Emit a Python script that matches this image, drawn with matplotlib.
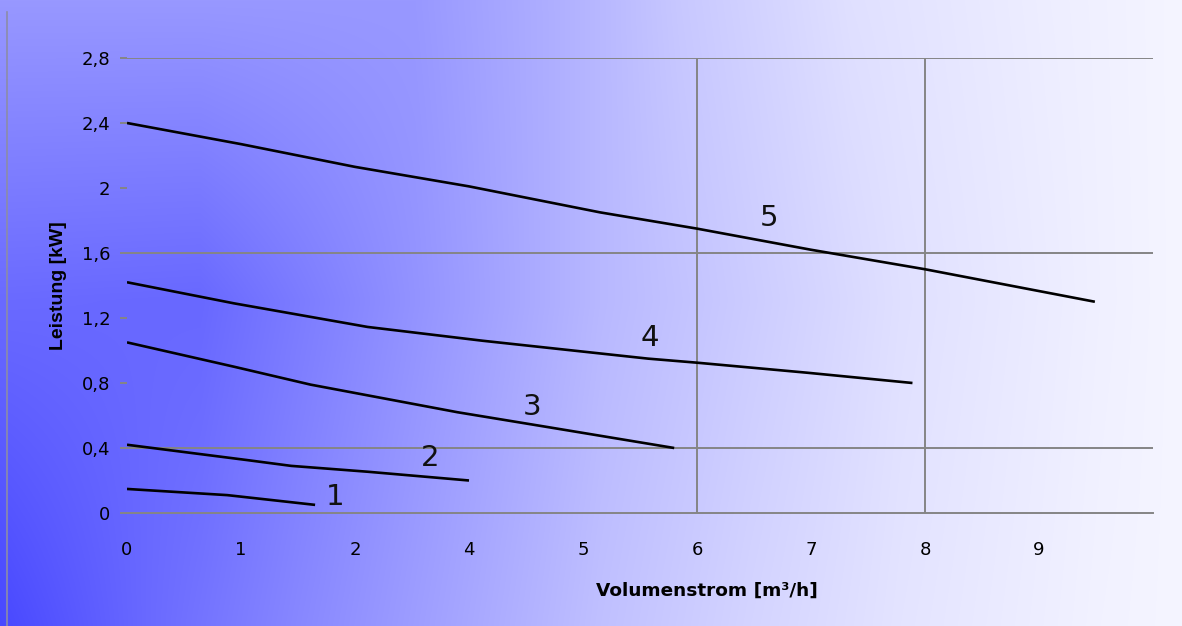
import numpy as np
import matplotlib
matplotlib.use("Agg")
import matplotlib.pyplot as plt
from matplotlib.lines import Line2D

# Kennlinien (x = Position auf der Achse, y = Leistung in kW)
x1 = [0.0, 0.88, 1.65]
y1 = [0.148, 0.11, 0.05]

x2 = [0.0, 1.05, 1.44, 2.11, 3.0]
y2 = [0.42, 0.326, 0.29, 0.254, 0.20]

x3 = [0.0, 0.94, 1.61, 2.9, 3.68, 4.8]
y3 = [1.05, 0.90, 0.79, 0.62, 0.53, 0.40]

x4 = [0.0, 0.94, 2.11, 3.12, 4.57, 5.0, 5.97, 6.89]
y4 = [1.42, 1.29, 1.145, 1.06, 0.95, 0.925, 0.863, 0.80]

x5 = [0.0, 1.0, 2.0, 3.0, 4.15, 5.0, 6.0, 7.0, 8.49]
y5 = [2.40, 2.27, 2.13, 2.01, 1.85, 1.75, 1.62, 1.50, 1.30]

curves = [(x1, y1), (x2, y2), (x3, y3), (x4, y4), (x5, y5)]
curve_names = ['1', '2', '3', '4', '5']
label_pos = [(1.83, 0.098), (2.66, 0.338), (3.55, 0.652), (4.59, 1.077), (5.63, 1.815)]

x_tick_labels = ['0', '1', '2', '4', '5', '6', '7', '8', '9']
y_ticks = [0, 0.4, 0.8, 1.2, 1.6, 2.0, 2.4, 2.8]
y_tick_labels = ['0', '0,4', '0,8', '1,2', '1,6', '2', '2,4', '2,8']
y_grid = [0.4, 1.6, 2.8]
x_grid = [5, 7]

W, H = 1182, 626
fig = plt.figure(figsize=(W / 100, H / 100), dpi=100)

# Hintergrund-Verlauf: Helligkeit in drei Zeilen, dazwischen linear
rows_y = [0, 300, 626]
rows = [
    ([0, 415, 560, 680, 850, 1050, 1182], [152, 152, 176, 200, 224, 238, 245]),
    ([0, 200, 450, 600, 750, 900, 1100, 1182], [106, 104, 154, 184, 204, 224, 240, 245]),
    ([0, 150, 300, 450, 600, 750, 900, 1100, 1182], [72, 106, 136, 164, 192, 212, 228, 242, 245]),
]
px = np.arange(W)
prof = np.array([np.interp(px, rx, rv) for rx, rv in rows])
v = np.empty((H, W))
for j in range(W):
    v[:, j] = np.interp(np.arange(H), rows_y, prof[:, j])
v = v / 255
img = np.dstack([v, v, np.ones_like(v)])
bg = fig.add_axes([0, 0, 1, 1], zorder=-1)
bg.imshow(img, aspect='auto', extent=[0, 1, 0, 1], origin='upper')
bg.axis('off')

fig.add_artist(Line2D([6.5 / W, 6.5 / W], [0, 1 - 12 / H], transform=fig.transFigure,
                      color='#8c8ca8', lw=1.2))

ax = fig.add_axes([127 / W, (H - 513) / H, 1026 / W, 455 / H])
ax.set_facecolor('none')
ax.set_xlim(0, 9)
ax.set_ylim(0, 2.8)

grid_c = '#858585'
for s in ax.spines.values():
    s.set_visible(False)
ax.axhline(0, color=grid_c, lw=1.4, clip_on=False)
for g in y_grid:
    ax.axhline(g, color=grid_c, lw=1.4)
for g in x_grid:
    ax.axvline(g, color=grid_c, lw=1.4)

for (xs, ys) in curves:
    ax.plot(xs, ys, color='black', lw=1.9, solid_capstyle='butt')
for name, (lx, ly) in zip(curve_names, label_pos):
    ax.text(lx, ly, name, fontsize=21, ha='center', va='center',
            family='DejaVu Sans', color='#111111')

ax.set_xticks(range(9))
ax.set_xticklabels(x_tick_labels, family='DejaVu Sans', fontsize=13)
ax.set_xticks([1, 3, 5, 7, 8], minor=True)
ax.tick_params(axis='x', which='major', length=0, pad=20)
ax.tick_params(axis='x', which='minor', length=6, width=1.4, color=grid_c)

ax.set_yticks(y_ticks)
ax.set_yticklabels(y_tick_labels, family='DejaVu Sans', fontsize=13)
ax.tick_params(axis='y', length=5, width=1.4, color=grid_c, pad=7)

ax.set_ylabel('Leistung [kW]', family='Liberation Sans', fontweight='bold',
              fontsize=14)
ax.yaxis.set_label_coords(-(127 - 67) / 1026, 0.5)
ax.set_xlabel('Volumenstrom [m³/h]', family='DejaVu Sans', fontweight='bold',
              fontsize=13.3)
ax.xaxis.set_label_coords((707 - 127) / 1026, -(582 - 513) / 455)

fig.savefig('out.png', dpi=100)
